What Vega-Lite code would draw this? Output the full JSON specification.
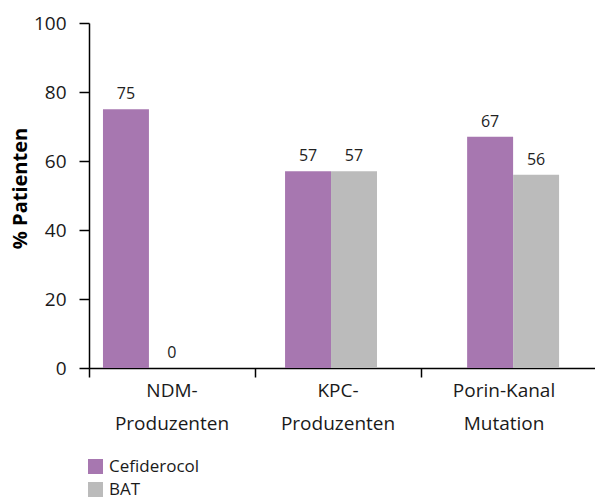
{
  "$schema": "https://vega.github.io/schema/vega-lite/v6.json",
  "width": 506,
  "height": 345,
  "autosize": "none",
  "padding": {"left": 89, "top": 23, "right": 0, "bottom": 133},
  "config": {
    "font": "Open Sans",
    "view": {"stroke": null},
    "axis": {
      "grid": false,
      "ticks": true,
      "domainColor": "#000000",
      "tickColor": "#000000",
      "domainWidth": 1.5,
      "tickWidth": 1.5,
      "labelColor": "#1a1a1a",
      "labelFont": "Open Sans"
    }
  },
  "data": {
    "values": [
      {"gruppe": "NDM-Produzenten", "therapie": "Cefiderocol", "wert": 75},
      {"gruppe": "NDM-Produzenten", "therapie": "BAT", "wert": 0},
      {"gruppe": "KPC-Produzenten", "therapie": "Cefiderocol", "wert": 57},
      {"gruppe": "KPC-Produzenten", "therapie": "BAT", "wert": 57},
      {"gruppe": "Porin-Kanal Mutation", "therapie": "Cefiderocol", "wert": 67},
      {"gruppe": "Porin-Kanal Mutation", "therapie": "BAT", "wert": 56}
    ]
  },
  "layer": [
    {
      "encoding": {
        "x": {
          "field": "gruppe",
          "type": "nominal",
          "sort": null,
          "scale": {"type": "band", "paddingInner": 0.495, "paddingOuter": 0.137, "align": 0.28},
          "axis": null
        },
        "xOffset": {
          "field": "therapie",
          "type": "nominal",
          "sort": ["Cefiderocol", "BAT"],
          "scale": {"paddingInner": 0, "paddingOuter": 0}
        },
        "y": {
          "field": "wert",
          "type": "quantitative",
          "scale": {"domain": [0, 100], "nice": false},
          "axis": {
            "values": [0, 20, 40, 60, 80, 100],
            "ticks": true,
            "tickSize": 10,
            "tickWidth": 1.5,
            "tickColor": "#000000",
            "labelPadding": 13,
            "labelFontSize": 19,
            "title": "% Patienten",
            "titleFont": "Open Sans",
            "titleFontSize": 20,
            "titleFontWeight": "bold",
            "titleColor": "#000000",
            "titlePadding": 3,
            "titleY": 165
          }
        }
      },
      "layer": [
        {
          "mark": {"type": "bar"},
          "encoding": {
            "color": {
              "field": "therapie",
              "type": "nominal",
              "scale": {"domain": ["Cefiderocol", "BAT"], "range": ["#A777B0", "#BBBBBB"]},
              "legend": {
                "title": null,
                "orient": "none",
                "legendX": -2,
                "legendY": 435,
                "direction": "vertical",
                "symbolType": "square",
                "symbolSize": 225,
                "symbolStrokeWidth": 0,
                "labelFontSize": 17,
                "labelFont": "Open Sans",
                "labelColor": "#1a1a1a",
                "labelOffset": 5,
                "rowPadding": 5,
                "padding": 0,
                "offset": 0
              }
            }
          }
        },
        {
          "mark": {"type": "text", "baseline": "bottom", "dy": -7, "fontSize": 16, "color": "#222222"},
          "encoding": {
            "text": {"field": "wert", "type": "quantitative"}
          }
        }
      ]
    },
    {
      "mark": {"type": "bar", "opacity": 0},
      "encoding": {
        "x": {
          "field": "gruppe",
          "type": "nominal",
          "sort": null,
          "scale": {"type": "band", "paddingInner": 0, "paddingOuter": 0.024, "align": 0},
          "axis": {
            "title": null,
            "labelAngle": 0,
            "ticks": true,
            "bandPosition": 0,
            "tickExtra": false,
            "tickSize": 9,
            "labelFontSize": 19,
            "labelPadding": 4,
            "labelLineHeight": 33,
            "labelExpr": "indexof(datum.value, ' ') > 0 ? split(datum.value, ' ') : [slice(datum.value, 0, indexof(datum.value, '-') + 1), slice(datum.value, indexof(datum.value, '-') + 1)]"
          }
        }
      }
    }
  ],
  "resolve": {"scale": {"x": "independent"}}
}
